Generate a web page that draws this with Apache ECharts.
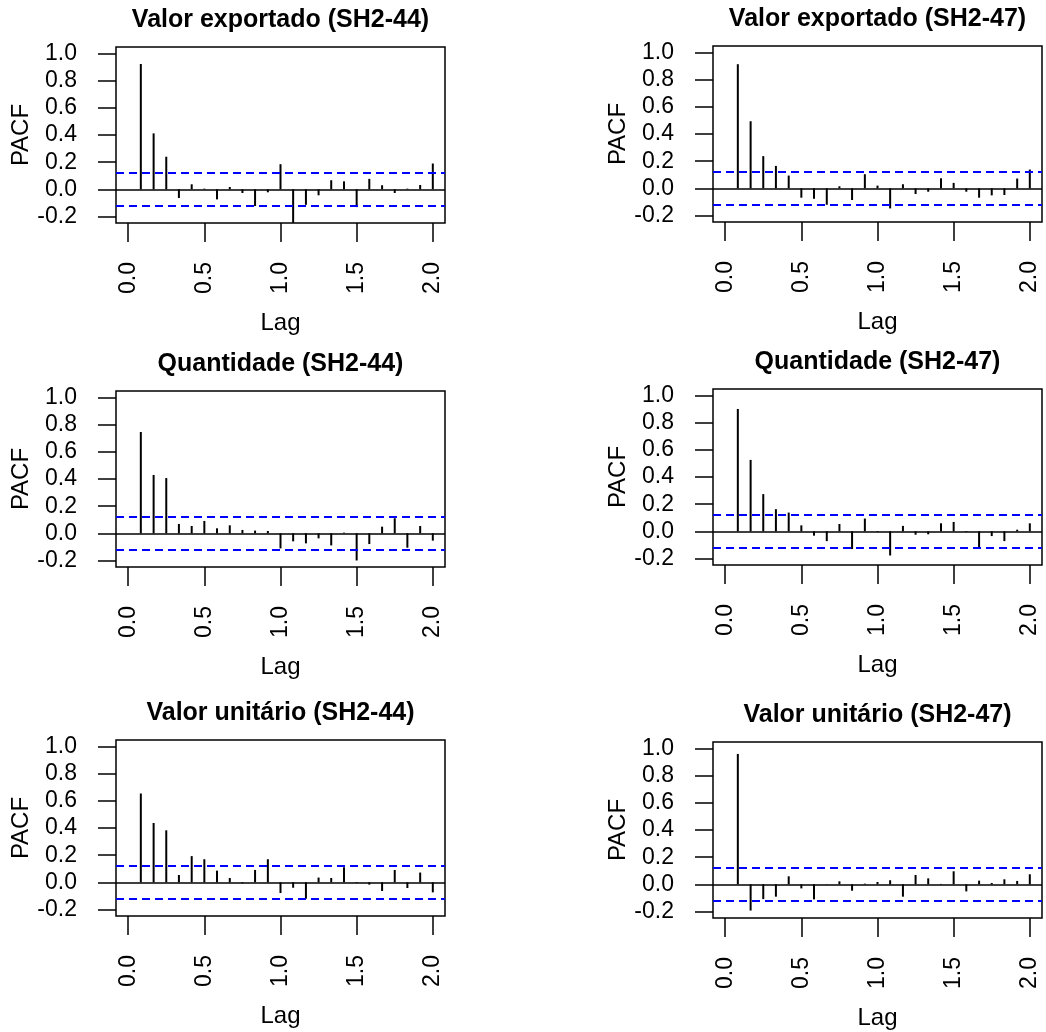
<!DOCTYPE html>
<html>
<head>
<meta charset="utf-8">
<script src="https://cdn.jsdelivr.net/npm/echarts@6/dist/echarts.min.js"></script>
<style>
  html, body { margin: 0; background: #fff; }
  #chart { width: 1046px; height: 1032px; }
</style>
</head>
<body>
<div id="chart"></div>
<script>
// lags in years (monthly series, 24 lags)
const lags = [0.083, 0.167, 0.25, 0.333, 0.417, 0.5, 0.583, 0.667, 0.75, 0.833, 0.917, 1.0,
              1.083, 1.167, 1.25, 1.333, 1.417, 1.5, 1.583, 1.667, 1.75, 1.833, 1.917, 2.0]
const xTicks = [0, 0.5, 1, 1.5, 2]
const yTicks = [-0.2, 0, 0.2, 0.4, 0.6, 0.8, 1.0]
const ci = 0.118

const titles = [
  'Valor exportado (SH2-44)', 'Valor exportado (SH2-47)',
  'Quantidade (SH2-44)', 'Quantidade (SH2-47)',
  'Valor unitário (SH2-44)', 'Valor unitário (SH2-47)'
]

// PACF values
const valorExp44 = [0.923, 0.412, 0.240, -0.064, 0.037, 0.005, -0.074, 0.017, -0.027, -0.123, -0.022, 0.185,
                    -0.247, -0.114, -0.044, 0.067, 0.059, -0.131, 0.077, 0.030, -0.027, 0.005, 0.032, 0.190]
const valorExp47 = [0.914, 0.494, 0.237, 0.165, 0.094, -0.069, -0.077, -0.121, 0.015, -0.086, 0.104, 0.020,
                    -0.148, 0.030, -0.042, -0.025, 0.074, 0.040, -0.025, -0.069, -0.052, -0.049, 0.072, 0.138]
const quant44 = [0.746, 0.430, 0.407, 0.069, 0.054, 0.091, 0.037, 0.059, 0.025, 0.020, 0.017, -0.111,
                 -0.059, -0.074, -0.037, -0.089, 0.005, -0.200, -0.079, 0.049, 0.111, -0.106, 0.054, -0.054]
const quant47 = [0.901, 0.526, 0.274, 0.163, 0.138, 0.044, -0.032, -0.072, 0.054, -0.131, 0.094, -0.005,
                 -0.178, 0.040, -0.025, -0.022, 0.059, 0.069, -0.005, -0.121, -0.035, -0.072, 0.012, 0.059]
const unit44 = [0.654, 0.437, 0.383, 0.054, 0.193, 0.170, 0.086, 0.032, -0.007, 0.091, 0.170, -0.079,
                -0.040, -0.121, 0.035, 0.032, 0.111, -0.005, -0.017, -0.064, 0.091, -0.042, 0.072, -0.074]
const unit47 = [0.960, -0.193, -0.109, -0.091, 0.059, -0.030, -0.111, 0.002, 0.022, -0.047, 0.005, 0.017,
                0.030, -0.091, 0.069, 0.044, 0.003, 0.096, -0.052, 0.027, 0.010, 0.037, 0.025, 0.074]

const panels = [
  { data: valorExp44, left: 116, top: 47 },
  { data: valorExp47, left: 713, top: 46 },
  { data: quant44, left: 116, top: 391 },
  { data: quant47, left: 713, top: 389 },
  { data: unit44, left: 116, top: 740 },
  { data: unit47, left: 713, top: 742 }
]
const boxW = 329
const boxH = 176

const font = 'Liberation Sans, Arial, sans-serif'
const txt = { color: '#000', fontFamily: font, fontSize: 23 }

let option = { backgroundColor: '#fff', animation: false, title: [], grid: [], xAxis: [], yAxis: [], series: [] }

panels.forEach((p, i) => {
  option.title.push({
    text: titles[i],
    left: p.left + boxW / 2,
    top: p.top - 39,
    textAlign: 'center',
    padding: 0,
    textStyle: { color: '#000', fontFamily: font, fontSize: 25, fontWeight: 'bold' }
  })
  option.grid.push({
    left: p.left, top: p.top, width: boxW, height: boxH,
    show: true, borderColor: '#000', borderWidth: 1.5, backgroundColor: 'transparent'
  })
  option.xAxis.push({
    type: 'value', gridIndex: i, min: -0.08, max: 2.08, position: 'bottom',
    name: 'Lag', nameLocation: 'middle', nameGap: 88,
    nameTextStyle: { ...txt, fontSize: 24 },
    axisLine: { show: false, onZero: false },
    splitLine: { show: false },
    axisTick: { show: true, inside: false, length: 19, customValues: xTicks, lineStyle: { color: '#000', width: 1.5 } },
    axisLabel: { ...txt, rotate: 90, margin: 39, customValues: xTicks, formatter: v => v.toFixed(1) }
  })
  option.yAxis.push({
    type: 'value', gridIndex: i, min: -0.248, max: 1.048, position: 'left',
    name: 'PACF', nameLocation: 'middle', nameGap: 81,
    nameTextStyle: { ...txt, fontSize: 24 },
    axisLine: { show: false, onZero: false },
    splitLine: { show: false },
    axisTick: { show: true, inside: false, length: 18, customValues: yTicks, lineStyle: { color: '#000', width: 1.5 } },
    axisLabel: { ...txt, margin: 39, customValues: yTicks, formatter: v => v.toFixed(1) }
  })
  option.series.push({
    type: 'bar', xAxisIndex: i, yAxisIndex: i,
    barWidth: 2,
    itemStyle: { color: '#000' },
    data: lags.map((l, k) => [l, p.data[k]]),
    markLine: {
      silent: true, symbol: 'none', label: { show: false },
      data: [
        { yAxis: 0, lineStyle: { color: '#000', width: 1.5, type: 'solid' } },
        { yAxis: ci, lineStyle: { color: '#0000ff', width: 2, type: [8, 5] } },
        { yAxis: -ci, lineStyle: { color: '#0000ff', width: 2, type: [8, 5] } }
      ]
    }
  })
})

let myChart = echarts.init(document.getElementById('chart'))
myChart.setOption(option)
</script>
</body>
</html>
